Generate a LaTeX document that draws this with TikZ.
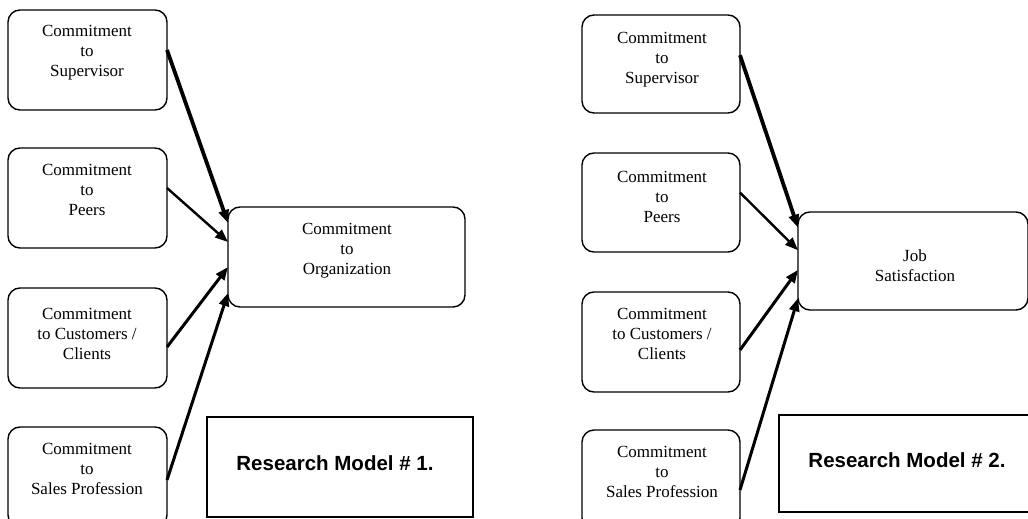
\documentclass[tikz,border=0pt]{standalone}
\usepackage{fontspec}
\setmainfont{Liberation Serif}
\newfontfamily\rmsans{Liberation Sans}
\usetikzlibrary{calc,arrows.meta}
\begin{document}
\begin{tikzpicture}[x=1pt,y=-1pt,
 sbox/.style={draw, line width=1.4pt, rounded corners=12pt, inner sep=0pt, outer sep=0pt},
 lbl/.style={align=center, font=\fontsize{17}{20}\selectfont, inner sep=0pt},
 model/.style={draw, line width=1.5pt, inner sep=0pt, outer sep=0pt},
 mtext/.style={font=\rmsans\bfseries\fontsize{20.5}{24}\selectfont, inner sep=0pt},
 arr/.style={line width=3pt, -{Triangle[length=13pt,width=10pt]}},
 thinarr/.style={line width=2.4pt, -{Triangle[length=13pt,width=10pt]}},
 thickarr/.style={line width=3.8pt, -{Triangle[length=13pt,width=10pt]}},
]
\useasboundingbox (0,0) rectangle (1028,519);
\clip (0,0) rectangle (1028,519);
% ---------- left model ----------
\node[sbox, minimum width=159pt, minimum height=100pt] (s1) at (87.5,60) {};
\node[sbox, minimum width=159pt, minimum height=100pt] (s2) at (87.5,198) {};
\node[sbox, minimum width=159pt, minimum height=100pt] (s3) at (87.5,338) {};
\node[sbox, minimum width=159pt, minimum height=100pt] (s4) at (87.5,477) {};
\node[sbox, minimum width=237pt, minimum height=100pt] (org) at (346.5,257) {};
\node[model, minimum width=266pt, minimum height=100pt] (m1) at (340,467) {};
\node[lbl] (s1t) at (87,53) {Commitment\\to\\Supervisor};
\node[lbl] (s2t) at (87,190) {Commitment\\to\\Peers};
\node[lbl] (s3t) at (87,334) {Commitment\\to Customers /\\Clients};
\node[lbl] (s4t) at (87,469) {Commitment\\to\\Sales Profession};
\node[lbl] (orgt) at (347,251) {Commitment\\to\\Organization};
\node[mtext] (m1t) at (335,463) {Research Model \# 1.};
\draw[thickarr] ($(s1.north east)!0.4!(s1.south east)$) -- ($(org.north west)!0.16!(org.south west)$);
\draw[thinarr] ($(s2.north east)!0.4!(s2.south east)$) -- ($(org.north west)!0.35!(org.south west)$);
\draw[arr] ($(s3.north east)!0.59!(s3.south east)$) -- ($(org.north west)!0.6!(org.south west)$);
\draw[arr] ($(s4.north east)!0.53!(s4.south east)$) -- ($(org.north west)!0.86!(org.south west)$);
% ---------- right model ----------
\node[sbox, minimum width=158pt, minimum height=98pt] (r1) at (661,64) {};
\node[sbox, minimum width=158pt, minimum height=99pt] (r2) at (661,202.5) {};
\node[sbox, minimum width=158pt, minimum height=100pt] (r3) at (661,342) {};
\node[sbox, minimum width=158pt, minimum height=100pt] (r4) at (661,480) {};
\node[sbox, minimum width=230pt, minimum height=98pt] (job) at (913,261) {};
\node[model, minimum width=258pt, minimum height=97pt] (m2) at (908,463.5) {};
\node[lbl] (r1t) at (662,60) {Commitment\\to\\Supervisor};
\node[lbl] (r2t) at (662,197) {Commitment\\to\\Peers};
\node[lbl] (r3t) at (662,334) {Commitment\\to Customers /\\Clients};
\node[lbl] (r4t) at (662,472) {Commitment\\to\\Sales Profession};
\node[lbl] (jobt) at (915,266) {Job\\Satisfaction};
\node[mtext] (m2t) at (907,460) {Research Model \# 2.};
\draw[thickarr] ($(r1.north east)!0.41!(r1.south east)$) -- ($(job.north west)!0.16!(job.south west)$);
\draw[thinarr] ($(r2.north east)!0.4!(r2.south east)$) -- ($(job.north west)!0.39!(job.south west)$);
\draw[arr] ($(r3.north east)!0.58!(r3.south east)$) -- ($(job.north west)!0.59!(job.south west)$);
\draw[arr] ($(r4.north east)!0.6!(r4.south east)$) -- ($(job.north west)!0.88!(job.south west)$);
\end{tikzpicture}
\end{document}
